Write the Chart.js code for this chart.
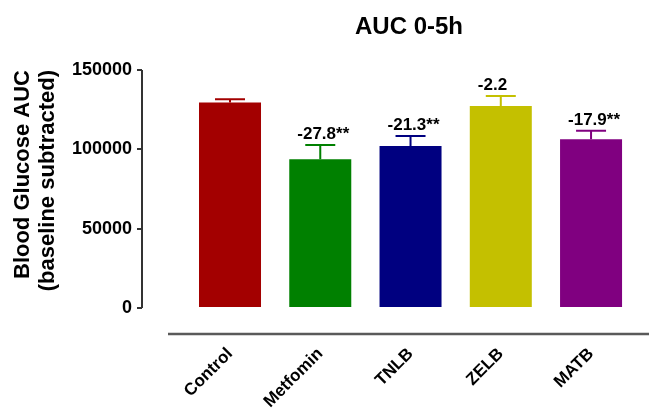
<!DOCTYPE html>
<html>
<head>
<meta charset="utf-8">
<script src="https://cdn.jsdelivr.net/npm/chart.js@4"></script>
<style>
  body { margin: 0; background: #fff; }
  #wrap { width: 649px; height: 414px; }
</style>
</head>
<body>
<div id="wrap"><canvas id="myChart"></canvas></div>
<script>
const groups = ['Control', 'Metfomin', 'TNLB', 'ZELB', 'MATB']
const auc = [129500, 93700, 102100, 127300, 106300]
const sem = [2000, 9000, 6300, 6300, 5400]
const changeLabels = ['', '-27.8**', '-21.3**', '-2.2', '-17.9**']
const colors = ['#a30000', '#008000', '#000080', '#c4c000', '#800080']
const yTicks = [0, 50000, 100000, 150000]
const chartTitle = 'AUC 0-5h'

const font = 'Liberation Sans, Arial, sans-serif'

// error bars, change labels, title and the detached axis lines
const extras = {
  id: 'extras',
  afterDatasetsDraw(chart) {
    const { ctx, chartArea, scales: { x, y } } = chart
    const meta = chart.getDatasetMeta(0)
    ctx.save()
    meta.data.forEach((bar, i) => {
      const top = y.getPixelForValue(auc[i] + sem[i])
      ctx.strokeStyle = colors[i]
      ctx.lineWidth = 2
      ctx.beginPath()
      ctx.moveTo(bar.x, bar.y)
      ctx.lineTo(bar.x, top)
      ctx.moveTo(bar.x - 15, top)
      ctx.lineTo(bar.x + 15, top)
      ctx.stroke()
      if (changeLabels[i]) {
        ctx.fillStyle = '#000'
        ctx.font = 'bold 17px ' + font
        ctx.textAlign = 'left'
        ctx.textBaseline = 'alphabetic'
        ctx.fillText(changeLabels[i], bar.x - 23, top - 6)
      }
    })

    ctx.fillStyle = '#000'
    ctx.font = 'bold 24px ' + font
    ctx.textAlign = 'center'
    ctx.textBaseline = 'middle'
    ctx.fillText(chartTitle, 409, 27)

    ctx.strokeStyle = '#333'
    ctx.lineWidth = 2
    ctx.beginPath()
    ctx.moveTo(chartArea.left, y.getPixelForValue(yTicks[0]))
    ctx.lineTo(chartArea.left, y.getPixelForValue(yTicks[yTicks.length - 1]))
    ctx.stroke()

    ctx.strokeStyle = '#5a5a5a'
    ctx.lineWidth = 2.5
    ctx.beginPath()
    ctx.moveTo(chartArea.left + 26, chartArea.bottom)
    ctx.lineTo(chartArea.right, chartArea.bottom)
    ctx.stroke()
    ctx.restore()
  }
}

const ctx = document.getElementById('myChart')

new Chart(ctx, {
  type: 'bar',
  data: {
    datasets: [{
      data: auc.map((v, i) => ({ x: i, y: v })),
      backgroundColor: colors,
      borderWidth: 0,
      barPercentage: 0.687,
      categoryPercentage: 1
    }]
  },
  options: {
    responsive: true,
    maintainAspectRatio: false,
    animation: false,
    layout: { padding: { left: 0, right: 0, top: 70, bottom: 0 } },
    plugins: {
      legend: { display: false },
      tooltip: { enabled: false },
      title: { display: false }
    },
    scales: {
      x: {
        type: 'linear',
        offset: false,
        min: -0.975,
        max: 4.642,
        afterBuildTicks: (scale) => { scale.ticks = groups.map((g, i) => ({ value: i })) },
        afterFit: (scale) => { scale.height = 80 },
        grid: { display: false, drawTicks: false, offset: false },
        border: { display: false },
        ticks: {
          autoSkip: false,
          minRotation: 45,
          maxRotation: 45,
          padding: 10,
          color: '#000',
          font: { family: font, size: 17, weight: 'bold' },
          callback: (v) => groups[v]
        }
      },
      y: {
        min: -16387,
        max: 150000,
        afterBuildTicks: (scale) => { scale.ticks = yTicks.map(v => ({ value: v })) },
        afterFit: (scale) => { scale.width = 142 },
        grid: { drawOnChartArea: false, drawTicks: true, tickLength: 5, color: '#333', lineWidth: 2 },
        border: { display: false },
        ticks: {
          padding: 5,
          color: '#000',
          font: { family: font, size: 18, weight: 'bold' },
          callback: (v) => String(v)
        },
        title: {
          display: true,
          text: ['Blood Glucose AUC', '(baseline subtracted)'],
          align: 'end',
          color: '#000',
          font: { family: font, size: 22, weight: 'bold', lineHeight: 1.14 },
          padding: { top: 10.5, bottom: 0 }
        }
      }
    }
  },
  plugins: [extras]
})
</script>
</body>
</html>
